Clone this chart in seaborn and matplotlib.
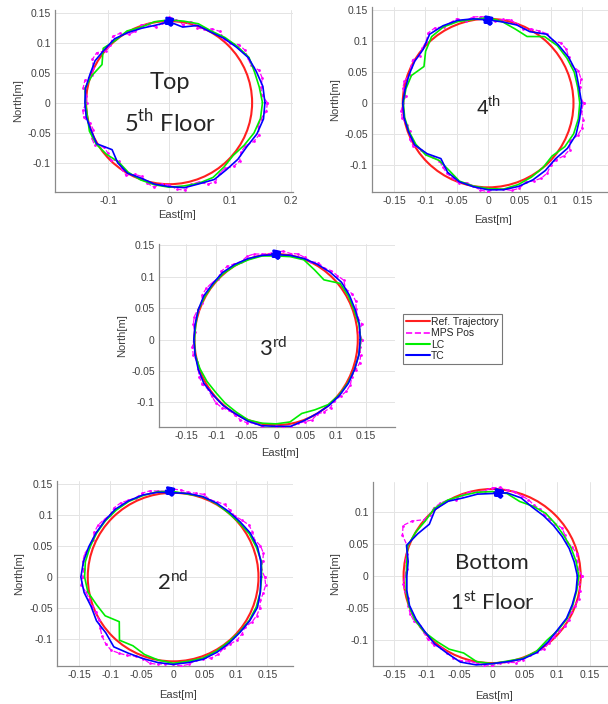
import numpy as np
import pandas as pd
import matplotlib
matplotlib.use('Agg')
import matplotlib.pyplot as plt
from matplotlib.patches import Circle
from matplotlib.lines import Line2D
import seaborn as sns

# angles (deg, counter-clockwise from East) at which the trajectories were read
angles_deg = list(range(0, 360, 10))      # LC / TC
mps_angles_deg = list(range(0, 360, 5))   # MPS positions (denser)
ref_radius = 0.136

# radius [m] of each trajectory at those angles, one list per floor
tc_5 = [0.157, 0.156, 0.152, 0.150, 0.144, 0.140, 0.136, 0.137, 0.128, 0.135, 0.131, 0.132,
        0.135, 0.139, 0.138, 0.140, 0.138, 0.139, 0.138, 0.138, 0.136, 0.137, 0.122, 0.131,
        0.136, 0.134, 0.138, 0.140, 0.144, 0.144, 0.148, 0.146, 0.147, 0.147, 0.153, 0.157]
lc_5 = [0.153, 0.150, 0.149, 0.151, 0.146, 0.142, 0.138, 0.140, 0.138, 0.138, 0.137, 0.134,
        0.138, 0.136, 0.141, 0.127, 0.134, 0.140, 0.137, 0.136, 0.139, 0.138, 0.134, 0.129,
        0.134, 0.137, 0.139, 0.141, 0.141, 0.143, 0.144, 0.140, 0.137, 0.142, 0.148, 0.152]
mps_5 = [0.161, 0.152, 0.153, 0.158, 0.157, 0.148, 0.149, 0.152, 0.150, 0.141, 0.139, 0.145,
         0.142, 0.135, 0.133, 0.140, 0.132, 0.138, 0.143, 0.133, 0.128, 0.136, 0.137, 0.131,
         0.132, 0.141, 0.144, 0.136, 0.135, 0.145, 0.145, 0.137, 0.134, 0.143, 0.143, 0.136,
         0.135, 0.142, 0.142, 0.134, 0.132, 0.140, 0.141, 0.130, 0.131, 0.135, 0.127, 0.136,
         0.140, 0.132, 0.131, 0.139, 0.143, 0.136, 0.137, 0.145, 0.148, 0.141, 0.141, 0.150,
         0.152, 0.144, 0.143, 0.150, 0.151, 0.144, 0.144, 0.153, 0.157, 0.151, 0.153, 0.160]

tc_4 = [0.149, 0.147, 0.149, 0.148, 0.146, 0.145, 0.133, 0.134, 0.133, 0.134, 0.138, 0.142,
        0.144, 0.145, 0.135, 0.135, 0.134, 0.134, 0.136, 0.136, 0.135, 0.135, 0.127, 0.117,
        0.129, 0.135, 0.137, 0.140, 0.142, 0.143, 0.143, 0.142, 0.140, 0.146, 0.149, 0.148]
lc_4 = [0.146, 0.145, 0.146, 0.145, 0.144, 0.140, 0.124, 0.127, 0.133, 0.138, 0.137, 0.140,
        0.142, 0.140, 0.130, 0.118, 0.130, 0.133, 0.135, 0.135, 0.134, 0.133, 0.130, 0.121,
        0.125, 0.134, 0.136, 0.138, 0.141, 0.140, 0.138, 0.136, 0.133, 0.141, 0.145, 0.146]
mps_4 = [0.152, 0.146, 0.149, 0.153, 0.153, 0.146, 0.148, 0.152, 0.151, 0.143, 0.146, 0.142,
         0.138, 0.132, 0.135, 0.139, 0.137, 0.133, 0.139, 0.140, 0.141, 0.137, 0.145, 0.143,
         0.142, 0.148, 0.148, 0.140, 0.137, 0.133, 0.139, 0.136, 0.133, 0.138, 0.138, 0.132,
         0.135, 0.139, 0.139, 0.134, 0.133, 0.138, 0.138, 0.131, 0.129, 0.124, 0.121, 0.126,
         0.131, 0.134, 0.137, 0.133, 0.136, 0.141, 0.143, 0.139, 0.141, 0.146, 0.146, 0.141,
         0.145, 0.148, 0.147, 0.141, 0.142, 0.148, 0.150, 0.144, 0.152, 0.155, 0.154, 0.149]

tc_3 = [0.140, 0.141, 0.140, 0.141, 0.142, 0.140, 0.138, 0.137, 0.136, 0.135, 0.136, 0.137,
        0.138, 0.139, 0.138, 0.139, 0.138, 0.137, 0.137, 0.137, 0.138, 0.139, 0.137, 0.137,
        0.136, 0.138, 0.139, 0.138, 0.140, 0.137, 0.136, 0.137, 0.138, 0.139, 0.139, 0.140]
lc_3 = [0.141, 0.140, 0.138, 0.139, 0.139, 0.124, 0.128, 0.135, 0.134, 0.133, 0.135, 0.135,
        0.136, 0.137, 0.137, 0.137, 0.138, 0.136, 0.136, 0.137, 0.135, 0.133, 0.131, 0.132,
        0.133, 0.136, 0.135, 0.134, 0.133, 0.125, 0.129, 0.135, 0.137, 0.138, 0.139, 0.140]
mps_3 = [0.143, 0.139, 0.145, 0.140, 0.142, 0.146, 0.146, 0.141, 0.147, 0.144, 0.143, 0.139,
         0.141, 0.137, 0.139, 0.141, 0.139, 0.141, 0.140, 0.137, 0.138, 0.141, 0.141, 0.137,
         0.139, 0.142, 0.142, 0.137, 0.140, 0.142, 0.142, 0.137, 0.139, 0.141, 0.140, 0.136,
         0.137, 0.140, 0.140, 0.136, 0.138, 0.141, 0.142, 0.138, 0.140, 0.142, 0.141, 0.137,
         0.138, 0.141, 0.141, 0.137, 0.140, 0.142, 0.137, 0.140, 0.142, 0.138, 0.139, 0.141,
         0.137, 0.140, 0.141, 0.137, 0.140, 0.143, 0.143, 0.139, 0.141, 0.144, 0.143, 0.140]

tc_2 = [0.140, 0.142, 0.143, 0.142, 0.139, 0.138, 0.138, 0.138, 0.137, 0.136, 0.139, 0.141,
        0.142, 0.143, 0.142, 0.142, 0.143, 0.145, 0.147, 0.144, 0.139, 0.141, 0.140, 0.147,
        0.142, 0.140, 0.140, 0.141, 0.140, 0.141, 0.140, 0.139, 0.139, 0.141, 0.143, 0.141]
lc_2 = [0.141, 0.143, 0.141, 0.140, 0.137, 0.136, 0.137, 0.138, 0.136, 0.138, 0.140, 0.140,
        0.141, 0.141, 0.141, 0.141, 0.141, 0.142, 0.141, 0.138, 0.130, 0.125, 0.112, 0.133,
        0.128, 0.133, 0.136, 0.139, 0.138, 0.139, 0.138, 0.137, 0.138, 0.140, 0.141, 0.141]
mps_2 = [0.146, 0.141, 0.145, 0.149, 0.148, 0.143, 0.146, 0.147, 0.143, 0.139, 0.141, 0.143,
         0.140, 0.138, 0.142, 0.140, 0.139, 0.141, 0.142, 0.139, 0.141, 0.144, 0.144, 0.141,
         0.143, 0.146, 0.146, 0.142, 0.144, 0.146, 0.145, 0.141, 0.142, 0.146, 0.146, 0.143,
         0.144, 0.147, 0.141, 0.138, 0.138, 0.135, 0.137, 0.142, 0.148, 0.152, 0.154, 0.150,
         0.146, 0.141, 0.140, 0.144, 0.143, 0.140, 0.141, 0.144, 0.143, 0.139, 0.140, 0.144,
         0.144, 0.140, 0.141, 0.144, 0.143, 0.140, 0.145, 0.147, 0.147, 0.144, 0.146, 0.148]

tc_1 = [0.131, 0.128, 0.126, 0.124, 0.123, 0.123, 0.124, 0.130, 0.132, 0.129, 0.130, 0.130,
        0.135, 0.136, 0.126, 0.132, 0.140, 0.131, 0.131, 0.133, 0.135, 0.135, 0.135, 0.138,
        0.139, 0.143, 0.141, 0.137, 0.136, 0.138, 0.138, 0.134, 0.131, 0.132, 0.131, 0.131]
lc_1 = [0.133, 0.131, 0.129, 0.127, 0.127, 0.128, 0.126, 0.124, 0.131, 0.132, 0.133, 0.134,
        0.137, 0.138, 0.134, 0.136, 0.138, 0.133, 0.132, 0.134, 0.136, 0.137, 0.136, 0.133,
        0.132, 0.128, 0.136, 0.137, 0.135, 0.137, 0.136, 0.131, 0.132, 0.133, 0.132, 0.132]
mps_1 = [0.138, 0.133, 0.132, 0.135, 0.131, 0.127, 0.129, 0.131, 0.127, 0.125, 0.125, 0.128,
         0.128, 0.132, 0.133, 0.136, 0.136, 0.139, 0.138, 0.134, 0.133, 0.136, 0.135, 0.132,
         0.137, 0.139, 0.139, 0.136, 0.137, 0.150, 0.158, 0.152, 0.139, 0.136, 0.135, 0.132,
         0.134, 0.137, 0.136, 0.133, 0.137, 0.139, 0.139, 0.136, 0.137, 0.140, 0.140, 0.137,
         0.138, 0.141, 0.141, 0.138, 0.138, 0.141, 0.140, 0.137, 0.137, 0.140, 0.139, 0.136,
         0.137, 0.139, 0.136, 0.134, 0.134, 0.137, 0.136, 0.133, 0.135, 0.138, 0.137, 0.134]

# start point tangle (offsets around the start position at the top)
blob_dx = [0.000, 0.006, -0.004, 0.005, -0.006, 0.003, -0.002, 0.005, -0.005, 0.000]
blob_dy = [0.000, 0.004, 0.006, -0.004, 0.001, -0.006, 0.005, 0.002, -0.003, 0.000]

floors = ['5th', '4th', '3rd', '2nd', '1st']
start_pts = [(0.000, 0.135), (0.000, 0.133), (0.000, 0.135), (-0.005, 0.138), (0.010, 0.129)]
series = {
    '5th': (mps_5, lc_5, tc_5),
    '4th': (mps_4, lc_4, tc_4),
    '3rd': (mps_3, lc_3, tc_3),
    '2nd': (mps_2, lc_2, tc_2),
    '1st': (mps_1, lc_1, tc_1),
}

ticks_a = [-0.1, 0, 0.1, 0.2]
ticks_b = [-0.15, -0.1, -0.05, 0, 0.05, 0.1, 0.15]
yticks_a = [-0.1, -0.05, 0, 0.05, 0.1, 0.15]
yticks_b = [-0.1, -0.05, 0, 0.05, 0.1]

# layout in pixels (left, top, right, bottom), limits and ticks per panel
W, H = 608, 704
panels = {
    '5th': dict(box=(55, 10, 293, 192), xlim=(-0.187, 0.203), ylim=(-0.149, 0.1545),
                xt=ticks_a, yt=yticks_a, xlab=215, ylab=18),
    '4th': dict(box=(372, 7, 608, 192), xlim=(-0.185, 0.191), ylim=(-0.1435, 0.155),
                xt=ticks_b, yt=yticks_a, xlab=220, ylab=335),
    '3rd': dict(box=(159, 244, 395, 427), xlim=(-0.195, 0.198), ylim=(-0.139, 0.152),
                xt=ticks_b, yt=yticks_a, xlab=453, ylab=122),
    '2nd': dict(box=(57, 481, 293, 666), xlim=(-0.185, 0.191), ylim=(-0.1435, 0.155),
                xt=ticks_b, yt=yticks_a, xlab=695, ylab=19),
    '1st': dict(box=(373, 482, 608, 666), xlim=(-0.183, 0.178), ylim=(-0.1406, 0.147),
                xt=ticks_b, yt=yticks_b, xlab=696, ylab=335),
}

sns.set_style('whitegrid')
plt.rcParams['font.family'] = ['Liberation Sans', 'DejaVu Sans']

c_ref, c_mps, c_lc, c_tc = '#ff2020', '#ff00ff', '#00ee00', '#0000ff'
tick_col = '#404040'

fig = plt.figure(figsize=(W / 100, H / 100), dpi=100)


def polar_df(radii, angs):
    th = np.deg2rad(angs + [angs[0]])
    rr = np.array(radii + [radii[0]])
    return pd.DataFrame({'East': rr * np.cos(th), 'North': rr * np.sin(th)})


for fl in floors:
    p = panels[fl]
    l, t, r, b = p['box']
    ax = fig.add_axes([l / W, 1 - b / H, (r - l) / W, (b - t) / H])
    mps, lc, tc = series[fl]

    ax.add_patch(Circle((0, 0), ref_radius, fill=False, ec=c_ref, lw=1.5, zorder=2))
    sns.lineplot(data=polar_df(mps, mps_angles_deg), x='East', y='North', sort=False,
                 estimator=None, color=c_mps, linestyle='--', lw=0.9, marker='.',
                 markersize=4, markeredgewidth=0, ax=ax, zorder=3)
    sns.lineplot(data=polar_df(lc, angles_deg), x='East', y='North', sort=False,
                 estimator=None, color=c_lc, lw=1.2, ax=ax, zorder=3)
    sns.lineplot(data=polar_df(tc, angles_deg), x='East', y='North', sort=False,
                 estimator=None, color=c_tc, lw=1.2, ax=ax, zorder=3)
    sx, sy = start_pts[floors.index(fl)]
    blob = pd.DataFrame({'East': [sx + d for d in blob_dx], 'North': [sy + d for d in blob_dy]})
    sns.lineplot(data=blob, x='East', y='North', sort=False, estimator=None,
                 color=c_tc, lw=2.2, ax=ax, zorder=4)

    ax.set_xlim(*p['xlim'])
    ax.set_ylim(*p['ylim'])
    ax.set_xticks(p['xt'])
    ax.set_xticklabels(['%g' % v for v in p['xt']])
    ax.set_yticks(p['yt'])
    ax.set_yticklabels(['%g' % v for v in p['yt']])
    ax.tick_params(labelsize=7.5, colors=tick_col, length=2, direction='in', pad=3)
    ax.grid(True, color='#e4e4e4', lw=0.7)
    for s in ['top', 'right']:
        ax.spines[s].set_visible(False)
    for s in ['left', 'bottom']:
        ax.spines[s].set_color('#8a8a8a')
        ax.spines[s].set_linewidth(0.9)
    ax.set_xlabel('')
    ax.set_ylabel('')
    fig.text((l + r) / 2 / W + 0.005, 1 - p['xlab'] / H, 'East[m]', ha='center', va='center',
             fontsize=8, color=tick_col)
    fig.text(p['ylab'] / W, 1 - (t + b) / 2 / H, 'North[m]', ha='center', va='center',
             rotation=90, fontsize=8, color=tick_col)

    if fl == '5th':
        ax.text(0.002, 0.033, 'Top', ha='center', va='center', fontsize=17, family='Lato')
        ax.text(0.002, -0.032, r'5$^{\mathregular{th}}$ Floor', ha='center', va='center',
                fontsize=17, family='Lato')
    elif fl == '4th':
        ax.text(0.0, -0.005, r'4$^{\mathregular{th}}$', ha='center', va='center', fontsize=15)
    elif fl == '3rd':
        ax.text(-0.005, -0.014, r'3$^{\mathregular{rd}}$', ha='center', va='center',
                fontsize=16, family='Lato')
    elif fl == '2nd':
        ax.text(0.0, -0.008, r'2$^{\mathregular{nd}}$', ha='center', va='center',
                fontsize=16, family='Lato')
    else:
        ax.text(0.0, 0.02, 'Bottom', ha='center', va='center', fontsize=16, family='Lato')
        ax.text(0.0, -0.042, r'1$^{\mathregular{st}}$ Floor', ha='center', va='center',
                fontsize=16, family='Lato')

handles = [Line2D([], [], color=c_ref, lw=1.5),
           Line2D([], [], color=c_mps, lw=1.2, ls='--'),
           Line2D([], [], color=c_lc, lw=1.5),
           Line2D([], [], color=c_tc, lw=1.5)]
leg = fig.legend(handles, ['Ref. Trajectory', 'MPS Pos', 'LC', 'TC'], loc='upper left',
                 bbox_to_anchor=(403 / W, 1 - 314 / H), fontsize=7.5, frameon=True,
                 fancybox=False, edgecolor='#555555', handlelength=2.3, handletextpad=0.1,
                 labelspacing=0.12, borderpad=0.3, borderaxespad=0)
leg.get_frame().set_linewidth(0.8)

fig.savefig('out.png', dpi=100)
